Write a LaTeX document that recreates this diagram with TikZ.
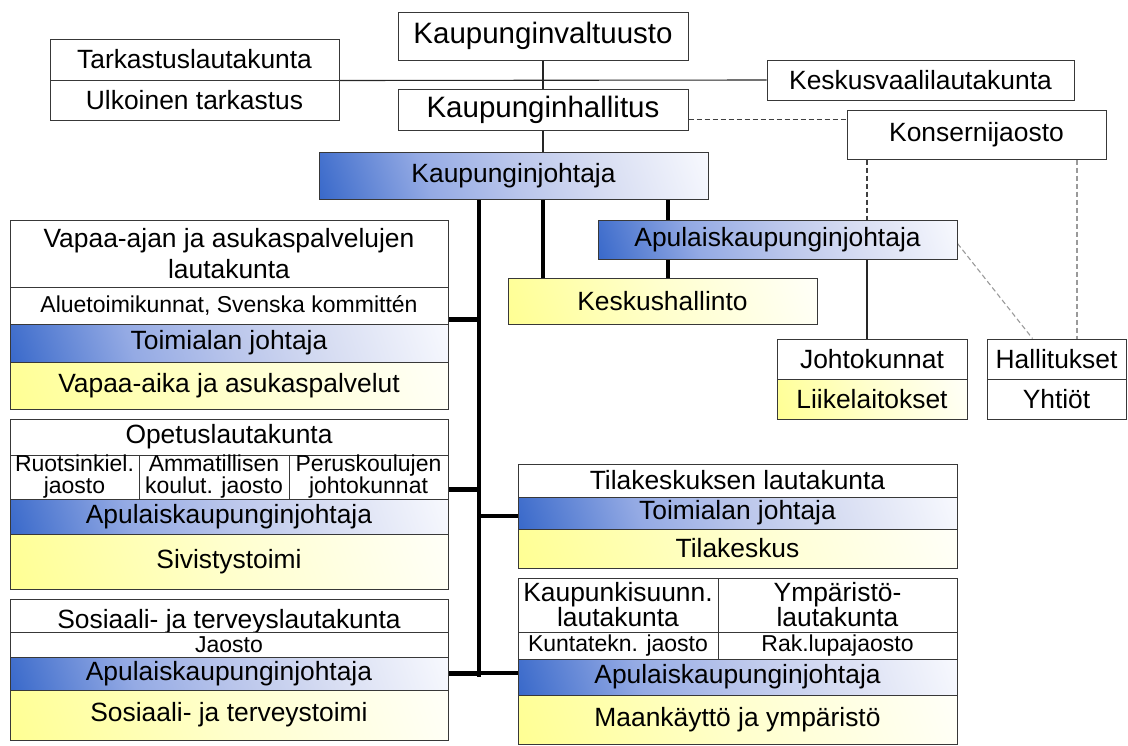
\documentclass[tikz,border=0pt]{standalone}
\usepackage{fontspec}
\setmainfont{Liberation Sans}
\usetikzlibrary{calc,backgrounds}
\definecolor{bdr}{HTML}{383838}
\definecolor{blA}{RGB}{250,251,255}
\definecolor{blB}{RGB}{215,221,242}
\definecolor{blC}{RGB}{185,197,235}
\definecolor{blD}{RGB}{148,170,228}
\definecolor{blE}{RGB}{50,100,200}
\definecolor{yeA}{RGB}{255,255,250}
\definecolor{yeC}{RGB}{255,255,205}
\definecolor{yeE}{RGB}{255,255,145}
\definecolor{dashA}{HTML}{404040}
\definecolor{dashB}{HTML}{9A9A9A}
\pgfdeclareverticalshading{bluesh}{100bp}{color(0bp)=(blA); color(17bp)=(blA); color(36bp)=(blB); color(50bp)=(blC); color(64bp)=(blD); color(83bp)=(blE); color(100bp)=(blE)}
\pgfdeclareverticalshading{yellowsh}{100bp}{color(0bp)=(yeA); color(17bp)=(yeA); color(50bp)=(yeC); color(83bp)=(yeE); color(100bp)=(yeE)}
\tikzset{
 cellbox/.style={draw=bdr,line width=1pt,inner sep=0pt,align=center,fill=white},
 bigtxt/.style={font=\fontsize{29.5}{34}\selectfont},
 normtxt/.style={font=\fontsize{26.4}{31}\selectfont},
 tighttxt/.style={font=\fontsize{26.4}{25}\selectfont},
 smalltxt/.style={font=\fontsize{23}{22}\selectfont},
 bluebar/.style={shade,shading=bluesh,shading angle=109},
 yellowbar/.style={shade,shading=yellowsh,shading angle=109},
 lnk/.style={draw=black!85,line width=1.1pt},
 trunk/.style={line width=4.5pt,draw=black},
 dashone/.style={draw=dashA,line width=1.1pt,dash pattern=on 5pt off 3pt},
 dashtwo/.style={draw=dashB,line width=1.1pt,dash pattern=on 5pt off 3pt},
}
\newcommand\cell[7]{\node[cellbox,#6,minimum width={(#4-#2)*1pt},minimum height={(#5-#3)*1pt}] (#1) at ({(#2+#4)/2},{(#3+#5)/2}) {#7};}
\begin{document}
\begin{tikzpicture}[x=1pt,y=-1pt]
\useasboundingbox (0,0) rectangle (1128,745);
\coordinate (tx) at (479,0);
\coordinate (tend) at (479,677);
\coordinate (ax) at (543,0);
\coordinate (bx) at (668,0);
\coordinate (kx) at (867,0);
\coordinate (hx) at (1077,0);
% top
\cell{kv}{398}{12}{688}{60}{bigtxt}{Kaupunginvaltuusto}
\cell{kh}{398}{89}{688}{130}{bigtxt}{Kaupunginhallitus}
\cell{tark1}{50}{39}{339}{80}{normtxt}{Tarkastuslautakunta}
\cell{tark2}{50}{80}{339}{120}{normtxt}{Ulkoinen tarkastus}
\cell{kvl}{767}{60}{1074}{100}{normtxt}{Keskusvaalilautakunta}
\cell{kons}{847}{110}{1106}{159}{normtxt}{Konsernijaosto}
\cell{kj}{319}{152}{708}{199}{normtxt,bluebar}{Kaupunginjohtaja}
\cell{apu0}{598}{220}{957}{259}{normtxt,bluebar}{Apulaiskaupunginjohtaja}
\cell{kesk}{508}{278}{817}{324}{normtxt,yellowbar}{Keskushallinto}
\cell{joht}{777}{339}{967}{379}{normtxt}{Johtokunnat}
\cell{liik}{777}{379}{967}{419}{normtxt,yellowbar}{Liikelaitokset}
\cell{hall}{987}{339}{1126}{379}{normtxt}{Hallitukset}
\cell{yht}{987}{379}{1126}{419}{normtxt}{Yhtiöt}
% left
\cell{vap1}{10}{220}{448}{287}{normtxt}{Vapaa-ajan ja asukaspalvelujen\\lautakunta}
\cell{vap2}{10}{287}{448}{324}{smalltxt}{Aluetoimikunnat, Svenska kommittén}
\cell{vap3}{10}{324}{448}{362}{normtxt,bluebar}{Toimialan johtaja}
\cell{vap4}{10}{362}{448}{409}{normtxt,yellowbar}{Vapaa-aika ja asukaspalvelut}
\cell{ope1}{10}{419}{448}{455}{normtxt}{Opetuslautakunta}
\cell{ope2a}{10}{455}{139}{499}{smalltxt}{Ruotsinkiel.\\jaosto}
\cell{ope2b}{139}{455}{289}{499}{smalltxt}{Ammatillisen\\koulut. jaosto}
\cell{ope2c}{289}{455}{448}{499}{smalltxt}{Peruskoulujen\\johtokunnat}
\cell{ope3}{10}{499}{448}{534}{normtxt,bluebar}{Apulaiskaupunginjohtaja}
\cell{ope4}{10}{534}{448}{589}{normtxt,yellowbar}{Sivistystoimi}
\cell{sos1}{10}{599}{448}{632}{normtxt,text height=26pt,text depth=0pt}{Sosiaali- ja terveyslautakunta}
\cell{sos2}{10}{632}{448}{657}{smalltxt}{Jaosto}
\cell{sos3}{10}{657}{448}{690}{normtxt,bluebar}{Apulaiskaupunginjohtaja}
\cell{sos4}{10}{690}{448}{740}{normtxt,yellowbar}{Sosiaali- ja terveystoimi}
% right
\cell{til1}{518}{464}{957}{497}{normtxt}{Tilakeskuksen lautakunta}
\cell{til2}{518}{497}{957}{529}{normtxt,bluebar}{Toimialan johtaja}
\cell{til3}{518}{529}{957}{568}{normtxt,yellowbar}{Tilakeskus}
\cell{maa1a}{518}{578}{718}{632}{tighttxt}{Kaupunkisuunn.\\lautakunta}
\cell{maa1b}{718}{578}{957}{632}{tighttxt}{Ympäristö-\\lautakunta}
\cell{maa2a}{518}{632}{718}{659}{smalltxt}{Kuntatekn. jaosto}
\cell{maa2b}{718}{632}{957}{659}{smalltxt}{Rak.lupajaosto}
\cell{maa3}{518}{659}{957}{695}{normtxt,bluebar}{Apulaiskaupunginjohtaja}
\cell{maa4}{518}{695}{957}{744}{normtxt,yellowbar}{Maankäyttö ja ympäristö}
% connectors
\begin{scope}[on background layer]
\draw[lnk] (kv.south) -- (kh.north);
\draw[lnk] (kh.south) -- (kh.south |- kj.north);
\draw[lnk] (tark1.south east) -- (kvl.west);
\coordinate (dk) at ([yshift=-10pt]kh.east);
\draw[dashone] (dk) -- (dk -| kons.west);
\draw[dashone] (kons.south -| kx) -- (apu0.north -| kx);
\draw[lnk] (apu0.south -| kx) -- (joht.north -| kx);
\draw[dashtwo] (kons.south -| hx) -- (hall.north -| hx);
\draw[dashtwo] ([yshift=-4pt]apu0.east) -- ($(hall.north west)+(46,0)$);
\draw[trunk] (kj.south -| tx) -- (tend);
\draw[trunk] (kj.south -| ax) -- (kesk.north -| ax);
\draw[trunk] (kj.south -| bx) -- (kesk.north -| bx);
\coordinate (c1) at ([yshift=4pt]vap3.north east);
\draw[trunk] (c1) -- (c1 -| tx);
\coordinate (c2) at ([yshift=10pt]ope2c.south east);
\draw[trunk] (c2) -- (c2 -| tx);
\draw[trunk] (sos3.east) -- (sos3.east -| tx);
\coordinate (c3) at ([yshift=-3pt]til2.west);
\draw[trunk] (c3 -| tx) -- (c3);
\coordinate (c4) at ([yshift=4pt]maa3.west);
\draw[trunk] (c4 -| tx) -- (c4);
\end{scope}
\end{tikzpicture}
\end{document}
